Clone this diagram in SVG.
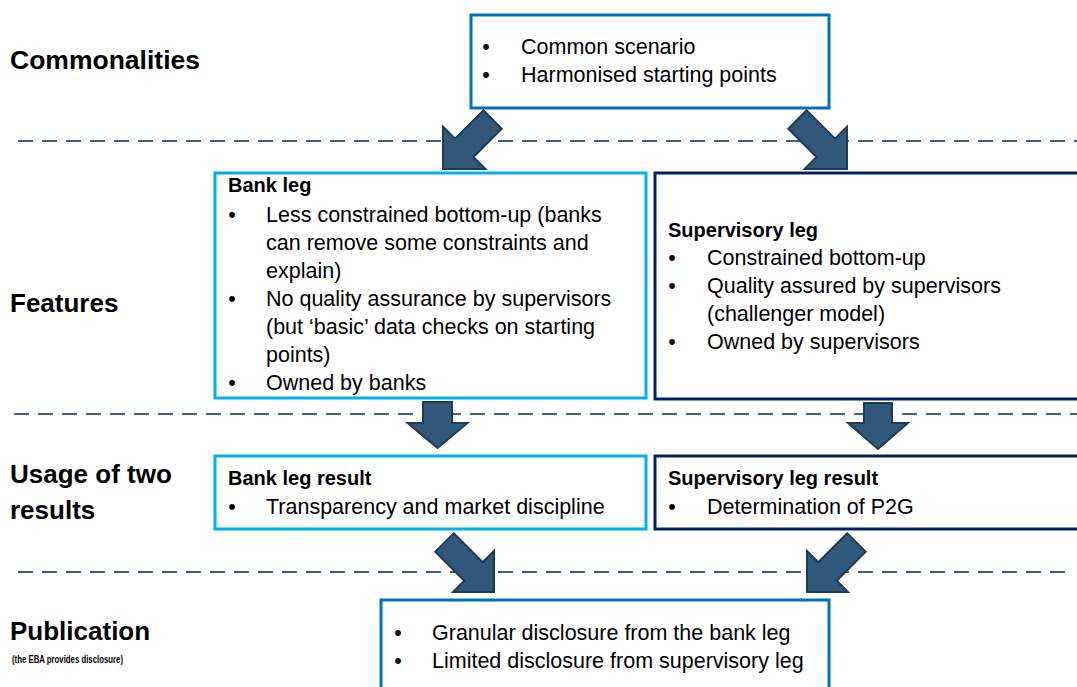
<svg xmlns="http://www.w3.org/2000/svg" width="1077" height="687" viewBox="0 0 1077 687">
  <style>
    text { font-family: "Liberation Sans", Arial, sans-serif; fill: #000; }
    .row { font-size: 26px; font-weight: bold; }
    .note { font-size: 11px; font-weight: bold; }
    .head { font-size: 20px; font-weight: bold; }
    .item { font-size: 21.5px; }
    .dot { font-size: 21.5px; text-anchor: middle; }
    .box { fill: #fff; stroke-width: 3; }
    .mid { stroke: #0070C0; }
    .bank { stroke: #00B0F0; }
    .sup { stroke: #002060; }
    .sep { stroke: #41627F; stroke-width: 2; stroke-dasharray: 15 9; fill: none; }
    .arrow { fill: #31577A; stroke: #1F3A55; stroke-width: 2; stroke-linejoin: miter; }
  </style>

  <rect width="1077" height="687" fill="#fff"/>

  <!-- dashed separators between the rows -->
  <g id="separators">
    <line class="sep" x1="18" y1="141" x2="1077" y2="141"/>
    <line class="sep" x1="14" y1="414" x2="1077" y2="414"/>
    <line class="sep" x1="18" y1="572" x2="1066" y2="572"/>
  </g>

  <!-- row labels -->
  <g id="row-labels">
    <text class="row" x="10" y="69" textLength="190" lengthAdjust="spacingAndGlyphs">Commonalities</text>
    <text class="row" x="10" y="312">Features</text>
    <text class="row" x="10" y="483">Usage of two</text>
    <text class="row" x="10" y="519">results</text>
    <text class="row" x="10" y="640">Publication</text>
    <text class="note" x="12" y="663" textLength="111" lengthAdjust="spacingAndGlyphs">(the EBA provides disclosure)</text>
  </g>

  <g id="commonalities">
    <rect class="box mid" x="471" y="15" width="358" height="93"/>
    <text class="dot" x="486" y="54">•</text>
    <text class="item" x="521" y="54">Common scenario</text>
    <text class="dot" x="486" y="82">•</text>
    <text class="item" x="521" y="82">Harmonised starting points</text>
  </g>

  <g id="bank-leg">
    <rect class="box bank" x="215" y="173" width="431" height="225"/>
    <text class="head" x="228" y="192">Bank leg</text>
    <text class="dot" x="232" y="222">•</text>
    <text class="item" x="266" y="222">Less constrained bottom-up (banks</text>
    <text class="item" x="266" y="250">can remove some constraints and</text>
    <text class="item" x="266" y="278">explain)</text>
    <text class="dot" x="232" y="306">•</text>
    <text class="item" x="266" y="306">No quality assurance by supervisors</text>
    <text class="item" x="266" y="334">(but ‘basic’ data checks on starting</text>
    <text class="item" x="266" y="362">points)</text>
    <text class="dot" x="232" y="390">•</text>
    <text class="item" x="266" y="390">Owned by banks</text>
  </g>

  <g id="supervisory-leg">
    <rect class="box sup" x="655" y="173" width="440" height="226"/>
    <text class="head" x="668" y="237">Supervisory leg</text>
    <text class="dot" x="672" y="265">•</text>
    <text class="item" x="707" y="265">Constrained bottom-up</text>
    <text class="dot" x="672" y="293">•</text>
    <text class="item" x="707" y="293">Quality assured by supervisors</text>
    <text class="item" x="707" y="321">(challenger model)</text>
    <text class="dot" x="672" y="349">•</text>
    <text class="item" x="707" y="349">Owned by supervisors</text>
  </g>

  <g id="bank-leg-result">
    <rect class="box bank" x="215" y="456" width="431" height="73"/>
    <text class="head" x="228" y="485">Bank leg result</text>
    <text class="dot" x="232" y="514">•</text>
    <text class="item" x="266" y="514">Transparency and market discipline</text>
  </g>

  <g id="supervisory-leg-result">
    <rect class="box sup" x="655" y="456" width="440" height="73"/>
    <text class="head" x="668" y="485">Supervisory leg result</text>
    <text class="dot" x="672" y="514">•</text>
    <text class="item" x="707" y="514">Determination of P2G</text>
  </g>

  <g id="publication">
    <rect class="box mid" x="381" y="600" width="448" height="100"/>
    <text class="dot" x="398" y="640">•</text>
    <text class="item" x="432" y="640">Granular disclosure from the bank leg</text>
    <text class="dot" x="398" y="668">•</text>
    <text class="item" x="432" y="668">Limited disclosure from supervisory leg</text>
  </g>

  <!-- block arrows between the rows -->
  <g id="connectors">
    <polygon class="arrow" points="483.3,110.3 501.7,128.7 473.4,157 485.4,169 443,169 443,126.6 455,138.6"/>
    <polygon class="arrow" points="806.7,110.3 788.3,128.7 816.6,157 804.6,169 847,169 847,126.6 835,138.6"/>
    <polygon class="arrow" points="423,402 452,402 452,423 467.5,423 437.5,448 407.5,423 423,423"/>
    <polygon class="arrow" points="864,403 892,403 892,423 908,423 878,449 848,423 864,423"/>
    <polygon class="arrow" points="453.7,533.3 482.7,562.3 494,551 494,592 453,592 464.3,580.7 435.3,551.7"/>
    <polygon class="arrow" points="847.3,533.3 818.3,562.3 807,551 807,592 848,592 836.7,580.7 865.7,551.7"/>
  </g>
</svg>
